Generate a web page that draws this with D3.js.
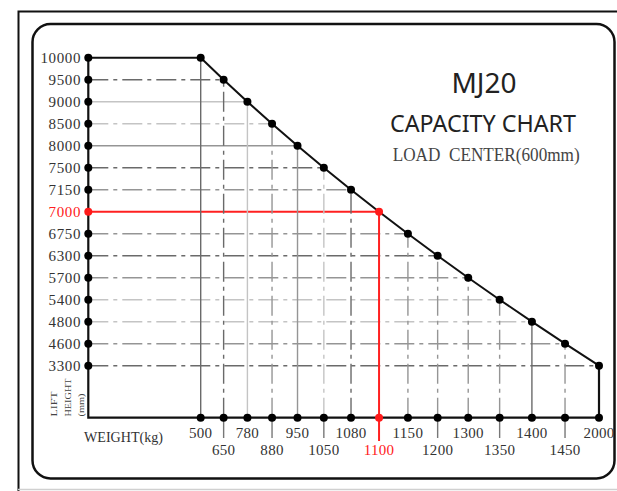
<!DOCTYPE html>
<html>
<head>
<meta charset="utf-8">
<script src="https://cdn.jsdelivr.net/npm/d3@7"></script>
<style>
  body { margin: 0; background: #fff; }
  svg { display: block; }
</style>
</head>
<body>
<script>
// capacity table: load (kg) at each lift height (mm), paired by position
const weights = [500, 650, 780, 880, 950, 1050, 1080, 1100, 1150, 1200, 1300, 1350, 1400, 1450, 2000];
const heights = [10000, 9500, 9000, 8500, 8000, 7500, 7150, 7000, 6750, 6300, 5700, 5400, 4800, 4600, 3300];
const highlightWeight = 1100;
const highlightHeight = 7000;

// line style codes for the guide lines (s = solid, dd = dash-dot, number = shade)
const hStyles = ['none', 'dd3', 's1', 'dd1', 's2', 'dd3', 'dd2', 'red', 'dd2', 'dd3', 'dd2', 'dd1', 'dd1', 'dd2', 'dd3'];
const vStyles = ['s3', 'dd3', 's1', 'dd2', 's2', 'dd1', 'dd3', 'red', 'dd2', 'dd2', 'dd2', 'dd2', 's3', 'dd2', 'none'];

const shade = {1: '#c4c4c4', 2: '#959595', 3: '#6a6a6a'};
const styleOf = code => {
  if (code === 'red') return {stroke: '#ff2020', width: 2, dash: null};
  const solid = code[0] === 's' && code[1] !== 'd';
  const level = +code.slice(-1);
  return {stroke: shade[level], width: 1.4, dash: solid ? null : '20,5,4,5'};
};

const W = 617, H = 491;
const axisX = 88.3, baseY = 417.7;

const svg = d3.select('body').append('svg')
  .attr('width', W)
  .attr('height', H);

// frames
svg.append('path')
  .attr('d', `M18.5,${H} V11.5 H${W}`)
  .attr('fill', 'none')
  .attr('stroke', '#111')
  .attr('stroke-width', 2);
svg.append('line')
  .attr('x1', 18).attr('x2', W).attr('y1', 489.5).attr('y2', 489.5)
  .attr('stroke', '#d0d0d0').attr('stroke-width', 1.5);
svg.append('rect')
  .attr('x', 32.5).attr('y', 24)
  .attr('width', 582).attr('height', 454.5)
  .attr('rx', 18).attr('ry', 18)
  .attr('fill', 'none')
  .attr('stroke', '#111')
  .attr('stroke-width', 2.5);

// scales: weights spread with slowly growing spacing, heights evenly spaced
const xIndex = d3.scalePoint().domain(weights).range([0, weights.length - 1]);
const spread = 26.5;
const xStretch = d3.scalePow().exponent(2)
  .domain([spread, spread + weights.length - 1])
  .range([200.7, 599]);
const x = w => xStretch(xIndex(w) + spread);

const y = d3.scalePoint().domain(heights).range([57.7, 365.7]);

const pts = weights.map((w, i) => ({w: w, h: heights[i], i: i}));
const isHi = d => d.w === highlightWeight && d.h === highlightHeight;

const chart = svg.append('g');

// horizontal guide lines, y axis to curve
chart.selectAll('.hgrid')
  .data(pts.filter(d => hStyles[d.i] !== 'none'))
  .join('line')
  .attr('class', 'hgrid')
  .attr('x1', axisX)
  .attr('x2', d => x(d.w))
  .attr('y1', d => y(d.h))
  .attr('y2', d => y(d.h))
  .each(function(d) {
    const s = styleOf(hStyles[d.i]);
    d3.select(this)
      .attr('stroke', s.stroke)
      .attr('stroke-width', s.width)
      .attr('stroke-dasharray', s.dash);
  });

// vertical guide lines, x axis to curve
chart.selectAll('.vgrid')
  .data(pts.filter(d => vStyles[d.i] !== 'none'))
  .join('line')
  .attr('class', 'vgrid')
  .attr('x1', d => x(d.w))
  .attr('x2', d => x(d.w))
  .attr('y1', baseY)
  .attr('y2', d => y(d.h))
  .each(function(d) {
    const s = styleOf(vStyles[d.i]);
    d3.select(this)
      .attr('stroke', s.stroke)
      .attr('stroke-width', s.width)
      .attr('stroke-dasharray', s.dash);
  });

// short ticks under the axis for the lower label row
chart.selectAll('.tick-down')
  .data(pts.filter(d => d.i % 2 === 1))
  .join('line')
  .attr('class', 'tick-down')
  .attr('x1', d => x(d.w))
  .attr('x2', d => x(d.w))
  .attr('y1', baseY)
  .attr('y2', d => d.w === highlightWeight ? 441 : 438)
  .attr('stroke', d => d.w === highlightWeight ? '#ff2020' : '#777')
  .attr('stroke-width', d => d.w === highlightWeight ? 2 : 1.4);

// outline: axes, top run, capacity curve, right drop
const first = pts[0], last = pts[pts.length - 1];
chart.append('path')
  .attr('d', `M${axisX},${y(first.h)} V${baseY} H${x(last.w)} V${y(last.h)}`)
  .attr('fill', 'none')
  .attr('stroke', '#111')
  .attr('stroke-width', 2.2);
chart.append('line')
  .attr('x1', axisX).attr('x2', x(first.w))
  .attr('y1', y(first.h)).attr('y2', y(first.h))
  .attr('stroke', '#111').attr('stroke-width', 2);

const curve = d3.line()
  .x(d => x(d.w))
  .y(d => y(d.h));
chart.append('path')
  .datum(pts)
  .attr('d', curve)
  .attr('fill', 'none')
  .attr('stroke', '#111')
  .attr('stroke-width', 2);

// dots on the y axis, x axis and curve
const dotColor = hi => hi ? '#ff1a1a' : '#000';
chart.selectAll('.ydot')
  .data(heights)
  .join('circle')
  .attr('class', 'ydot')
  .attr('cx', axisX)
  .attr('cy', d => y(d))
  .attr('r', 4)
  .attr('fill', d => dotColor(d === highlightHeight));
chart.selectAll('.xdot')
  .data(weights)
  .join('circle')
  .attr('class', 'xdot')
  .attr('cx', d => x(d))
  .attr('cy', baseY)
  .attr('r', 4)
  .attr('fill', d => dotColor(d === highlightWeight));
chart.selectAll('.cdot')
  .data(pts)
  .join('circle')
  .attr('class', 'cdot')
  .attr('cx', d => x(d.w))
  .attr('cy', d => y(d.h))
  .attr('r', 4)
  .attr('fill', d => dotColor(isHi(d)));

// tick labels
const serif = '"Liberation Serif", "DejaVu Serif", serif';
chart.selectAll('.ylab')
  .data(heights)
  .join('text')
  .attr('class', 'ylab')
  .attr('x', 81)
  .attr('y', d => y(d))
  .attr('dy', '0.35em')
  .attr('text-anchor', 'end')
  .attr('font-family', serif)
  .attr('font-size', 15)
  .attr('letter-spacing', 0.6)
  .attr('fill', d => d === highlightHeight ? '#ff2020' : '#333')
  .text(d => d);

chart.selectAll('.xlab')
  .data(pts)
  .join('text')
  .attr('class', 'xlab')
  .attr('x', d => x(d.w))
  .attr('y', d => d.i % 2 === 0 ? 432.7 : 450)
  .attr('dy', '0.35em')
  .attr('text-anchor', 'middle')
  .attr('font-family', serif)
  .attr('font-size', 15)
  .attr('letter-spacing', 0.3)
  .attr('fill', d => d.w === highlightWeight ? '#ff2020' : '#333')
  .text(d => d.w);

// axis titles
svg.append('text')
  .attr('x', 84)
  .attr('y', 437.5)
  .attr('dy', '0.35em')
  .attr('font-family', serif)
  .attr('font-size', 14)
  .attr('textLength', 79)
  .attr('lengthAdjust', 'spacingAndGlyphs')
  .attr('fill', '#333')
  .text('WEIGHT(kg)');

const liftLines = [['LIFT', 53.5, 25], ['HEIGHT', 68, 38], ['(mm)', 81, 23]];
svg.selectAll('.ytitle')
  .data(liftLines)
  .join('text')
  .attr('class', 'ytitle')
  .attr('transform', d => `translate(${d[1]},416.5) rotate(-90)`)
  .attr('dy', '0.35em')
  .attr('font-family', serif)
  .attr('font-size', 9)
  .attr('textLength', d => d[2])
  .attr('lengthAdjust', 'spacingAndGlyphs')
  .attr('fill', '#444')
  .text(d => d[0]);

// title block
const sans = '"Noto Sans", "Open Sans", sans-serif';
svg.append('text')
  .attr('x', 484).attr('y', 93.3)
  .attr('text-anchor', 'middle')
  .attr('font-family', sans)
  .attr('font-size', 28)
  .attr('fill', '#222')
  .text('MJ20');
svg.append('text')
  .attr('x', 483).attr('y', 131.7)
  .attr('text-anchor', 'middle')
  .attr('font-family', sans)
  .attr('font-size', 23)
  .attr('textLength', 186)
  .attr('lengthAdjust', 'spacingAndGlyphs')
  .attr('fill', '#222')
  .text('CAPACITY CHART');
svg.append('text')
  .attr('x', 392.7).attr('y', 161)
  .attr('font-family', serif)
  .attr('font-size', 18)
  .attr('textLength', 187)
  .attr('lengthAdjust', 'spacingAndGlyphs')
  .attr('fill', '#444')
  .attr('xml:space', 'preserve')
  .text('LOAD  CENTER(600mm)');
</script>
</body>
</html>
